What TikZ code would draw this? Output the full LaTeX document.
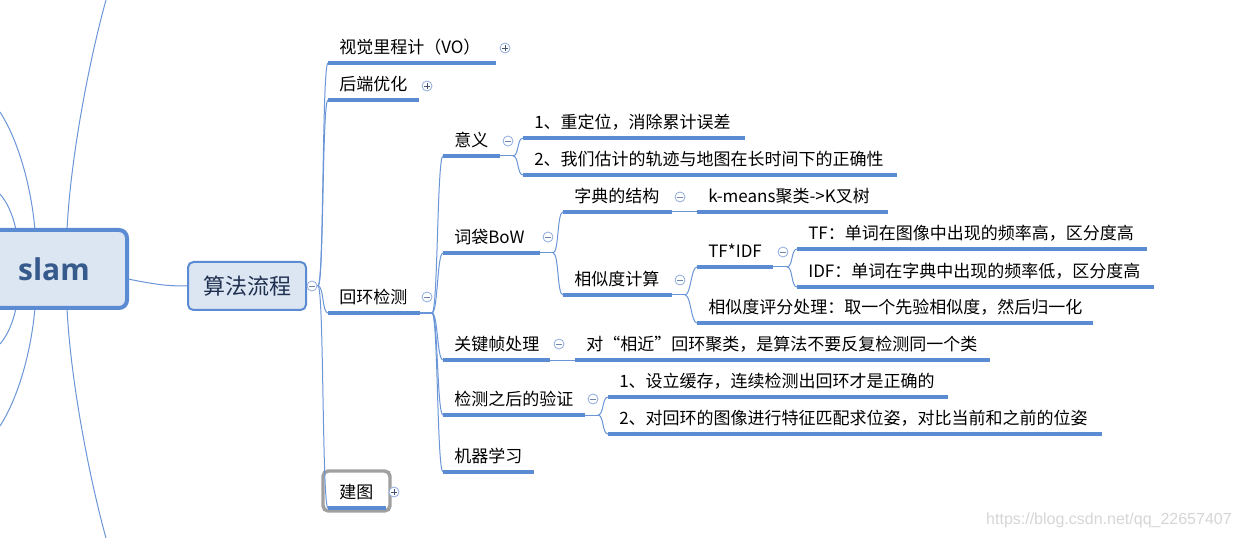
\documentclass[tikz,border=0pt]{standalone}
\usepackage{fontspec}
\setmainfont{Noto Sans CJK SC}
\newfontfamily\slamfont{Open Sans}
\newfontfamily\wmfont{Liberation Sans}
\definecolor{mmblue}{HTML}{5B8BD3}
\definecolor{mmthin}{HTML}{6A96D8}
\definecolor{mmfill}{HTML}{DCE6F2}
\definecolor{slamtxt}{HTML}{375A8C}
\definecolor{algtxt}{HTML}{1F3050}
\definecolor{mmgray}{HTML}{A0A0A0}
\definecolor{iconc}{HTML}{8FAADC}
\definecolor{signc}{HTML}{6F85AE}
\definecolor{signd}{HTML}{44546A}
\definecolor{wmgray}{HTML}{D6D6D6}
\tikzset{
  mmtext/.style={anchor=west, inner sep=0pt, text height=0.88em, text depth=0.12em,
    font=\fontsize{12.75pt}{15pt}\selectfont, text=black},
  mmline/.style={draw=mmblue, line width=2.3pt},
  mmconn/.style={draw=mmthin, line width=0.75pt},
  mmcurve/.style={to path={.. controls +(6,0) and +(-6,0) .. (\tikztotarget)}},
  mmslam/.style={draw=mmblue, fill=mmfill, line width=3pt, rounded corners=6pt,
    minimum width=109.5pt, minimum height=58.5pt, inner sep=0pt,
    font=\slamfont\bfseries\fontsize{22.5pt}{26pt}\selectfont, text=slamtxt},
  mmalg/.style={draw=mmblue, fill=mmfill, line width=1.5pt, rounded corners=4pt,
    minimum width=88.5pt, minimum height=36pt, inner sep=0pt,
    font=\fontsize{16.5pt}{20pt}\selectfont, text=algtxt},
  mmgraybox/.style={draw=mmgray, line width=2.6pt, rounded corners=4pt,
    minimum width=50.25pt, minimum height=30pt, inner sep=0pt},
  mmminus/.style={circle, draw=iconc, fill=white, line width=0.6pt, minimum size=7.5pt, inner sep=0pt,
    path picture={\draw[signc, line width=0.6pt]
      ([xshift=-2.3pt]path picture bounding box.center) -- ([xshift=2.3pt]path picture bounding box.center);}},
  mmplus/.style={circle, draw=iconc, fill=white, line width=0.6pt, minimum size=7.5pt, inner sep=0pt,
    path picture={\draw[signd, line width=0.6pt]
      ([xshift=-2.3pt]path picture bounding box.center) -- ([xshift=2.3pt]path picture bounding box.center)
      ([yshift=-2.3pt]path picture bounding box.center) -- ([yshift=2.3pt]path picture bounding box.center);}},
  mmwm/.style={anchor=east, inner sep=0pt, font=\wmfont\fontsize{12pt}{14pt}\selectfont, text=wmgray}
}
% name, x1, x2, y of underline, text
\newcommand\mmtopic[5]{%
  \coordinate (#1-a) at (#2,#4);
  \coordinate (#1-b) at (#3,#4);
  \draw[mmline] (#1-a) -- (#1-b);
  \node[mmtext] (#1) at ({#2+11},{#4-15}) {#5};
}
\begin{document}
\begin{tikzpicture}[x=0.75pt,y=-0.75pt]
\useasboundingbox (0,0) rectangle (1242,538);
\fill[white] (0,0) rectangle (1242,538);

% ---- lines leaving slam towards hidden topics
\coordinate (st1) at (67,230); \coordinate (ed1) at (106,0);
\coordinate (st2) at (35,230); \coordinate (ed2) at (0,112);
\coordinate (st3) at (16,230); \coordinate (ed3) at (0,194);
\coordinate (st4) at (16,308); \coordinate (ed4) at (0,344);
\coordinate (st5) at (35,308); \coordinate (ed5) at (0,426);
\coordinate (st6) at (67,308); \coordinate (ed6) at (106,538);
\draw[mmconn] (st1) .. controls (71,150) and (92,50) .. (ed1);
\draw[mmconn] (st2) .. controls (31,185) and (18,140) .. (ed2);
\draw[mmconn] (st3) .. controls (13,215) and (7,202) .. (ed3);
\draw[mmconn] (st4) .. controls (13,323) and (7,336) .. (ed4);
\draw[mmconn] (st5) .. controls (31,353) and (18,398) .. (ed5);
\draw[mmconn] (st6) .. controls (71,388) and (92,488) .. (ed6);

% ---- central topic and main branch
\node[mmslam] (slam) at (54,269) {slam};
\node[mmalg] (alg) at (247,286) {算法流程};
\coordinate (slamout) at (128,279);
\draw[mmconn] (slamout) .. controls (158,285) and (168,286) .. (alg.west);

% ---- forks
\coordinate (f0) at (318,286);
\coordinate (f1) at (432,313);
\coordinate (f2) at (513,156);
\coordinate (f3) at (553,253);
\coordinate (f4) at (685,295);
\coordinate (f5) at (787,267);
\coordinate (f6) at (598,415);

% ---- topics
\node[mmgraybox] (jtbox) at (356.5,491) {};
\mmtopic{vo}{328}{496}{63}{视觉里程计（VO）}
\mmtopic{hd}{328}{419}{100}{后端优化}
\mmtopic{hh}{328}{420}{313}{回环检测}
\mmtopic{jt}{328}{386}{508}{建图}
\mmtopic{yy}{443}{500}{156}{意义}
\mmtopic{ra}{523}{745}{138}{1、重定位，消除累计误差}
\mmtopic{rb}{523}{897}{175}{2、我们估计的轨迹与地图在长时间下的正确性}
\mmtopic{bow}{443}{540}{253}{词袋BoW}
\mmtopic{zd}{563}{672}{212}{字典的结构}
\mmtopic{km}{697}{888}{212}{k-means聚类->K叉树}
\mmtopic{xs}{563}{672}{295}{相似度计算}
\mmtopic{tfidf}{697}{773}{267}{TF*IDF}
\mmtopic{tf}{797}{1147}{249}{TF：单词在图像中出现的频率高，区分度高}
\mmtopic{idf}{797}{1154}{287}{IDF：单词在字典中出现的频率低，区分度高}
\mmtopic{pf}{697}{1093}{323}{相似度评分处理：取一个先验相似度，然后归一化}
\mmtopic{gj}{443}{550}{360}{关键帧处理}
\mmtopic{dx}{575}{990}{360}{对“相近”回环聚类，是算法不要反复检测同一个类}
\mmtopic{yz}{443}{585}{415}{检测之后的验证}
\mmtopic{va}{608}{948}{397}{1、设立缓存，连续检测出回环才是正确的}
\mmtopic{vb}{608}{1102}{434}{2、对回环的图像进行特征匹配求位姿，对比当前和之前的位姿}
\mmtopic{jq}{443}{534}{472}{机器学习}

% ---- connectors
\draw[mmconn] (alg.east) -- (f0);
\draw[mmconn] (f0) to[mmcurve] (vo-a);
\draw[mmconn] (f0) to[mmcurve] (hd-a);
\draw[mmconn] (f0) to[mmcurve] (hh-a);
\draw[mmconn] (f0) to[mmcurve] (jt-a);

\draw[mmconn] (hh-b) -- (f1);
\draw[mmconn] (f1) to[mmcurve] (yy-a);
\draw[mmconn] (f1) to[mmcurve] (bow-a);
\draw[mmconn] (f1) to[mmcurve] (gj-a);
\draw[mmconn] (f1) to[mmcurve] (yz-a);
\draw[mmconn] (f1) to[mmcurve] (jq-a);

\draw[mmconn] (yy-b) -- (f2);
\draw[mmconn] (f2) to[mmcurve] (ra-a);
\draw[mmconn] (f2) to[mmcurve] (rb-a);

\draw[mmconn] (bow-b) -- (f3);
\draw[mmconn] (f3) to[mmcurve] (zd-a);
\draw[mmconn] (f3) to[mmcurve] (xs-a);
\draw[mmconn] (zd-b) -- (km-a);

\draw[mmconn] (xs-b) -- (f4);
\draw[mmconn] (f4) to[mmcurve] (tfidf-a);
\draw[mmconn] (f4) to[mmcurve] (pf-a);

\draw[mmconn] (tfidf-b) -- (f5);
\draw[mmconn] (f5) to[mmcurve] (tf-a);
\draw[mmconn] (f5) to[mmcurve] (idf-a);

\draw[mmconn] (gj-b) -- (dx-a);

\draw[mmconn] (yz-b) -- (f6);
\draw[mmconn] (f6) to[mmcurve] (va-a);
\draw[mmconn] (f6) to[mmcurve] (vb-a);

% ---- collapse / expand icons
\node[mmminus] (i-alg) at (312,286) {};
\node[mmplus] (i-vo) at (505,48) {};
\node[mmplus] (i-hd) at (427,86) {};
\node[mmplus] (i-jt) at (394,492) {};
\node[mmminus] (i-hh) at (427,297) {};
\node[mmminus] (i-yy) at (508,141) {};
\node[mmminus] (i-bow) at (548,237) {};
\node[mmminus] (i-zd) at (680,197) {};
\node[mmminus] (i-xs) at (680,280) {};
\node[mmminus] (i-tfidf) at (783,252) {};
\node[mmminus] (i-gj) at (559,344) {};
\node[mmminus] (i-yz) at (593,399) {};

% ---- watermark
\node[mmwm] (wm) at (1232,520) {https://blog.csdn.net/qq\_22657407};
\end{tikzpicture}
\end{document}
